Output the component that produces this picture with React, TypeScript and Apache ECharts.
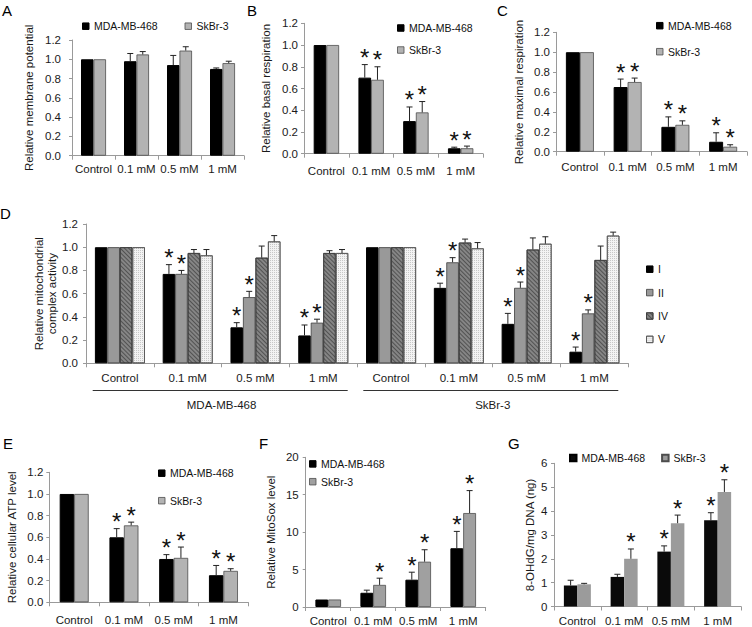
import React, { useEffect, useRef } from 'react';
import * as echarts from 'echarts';

const FONT = "'Liberation Sans', Arial, Helvetica, sans-serif";

const doses = ['Control', '0.1 mM', '0.5 mM', '1 mM'];
const cells = ['MDA-MB-468', 'SkBr-3'];
const complexes = ['I', 'II', 'IV', 'V'];

// A: membrane potential
const aMDA = [1.0, 0.98, 0.94, 0.9];
const aMDAErr = [1.0, 1.06, 1.04, 0.91];
const aSK = [1.0, 1.05, 1.09, 0.96];
const aSKErr = [1.0, 1.08, 1.13, 0.98];
const aStarMDA = [0, 0, 0, 0];
const aStarSK = [0, 0, 0, 0];

// B: basal respiration
const bMDA = [1.0, 0.7, 0.3, 0.05];
const bMDAErr = [1.0, 0.82, 0.43, 0.06];
const bSK = [1.0, 0.68, 0.38, 0.05];
const bSKErr = [1.0, 0.8, 0.48, 0.07];
const bStarMDA = [0, 1, 1, 1];
const bStarSK = [0, 1, 1, 1];

// C: maximal respiration
const cMDA = [1.0, 0.65, 0.25, 0.1];
const cMDAErr = [1.0, 0.73, 0.35, 0.19];
const cSK = [1.0, 0.7, 0.27, 0.05];
const cSKErr = [1.0, 0.74, 0.31, 0.07];
const cStarMDA = [0, 1, 1, 1];
const cStarSK = [0, 1, 1, 1];

// D: mitochondrial complex activity (MDA-MB-468 x4 doses, then SkBr-3 x4 doses)
const dI = [1, 0.77, 0.31, 0.24, 1, 0.65, 0.34, 0.1];
const dIErr = [1, 0.85, 0.35, 0.33, 1, 0.69, 0.43, 0.14];
const dII = [1, 0.77, 0.57, 0.35, 1, 0.87, 0.65, 0.43];
const dIIErr = [1, 0.8, 0.62, 0.38, 1, 0.91, 0.7, 0.46];
const dIV = [1, 0.95, 0.91, 0.95, 1, 1.04, 0.98, 0.89];
const dIVErr = [1, 0.98, 1.01, 0.97, 1, 1.07, 1.08, 1.01];
const dV = [1, 0.93, 1.05, 0.95, 1, 0.99, 1.03, 1.1];
const dVErr = [1, 0.98, 1.1, 0.98, 1, 1.04, 1.09, 1.13];
const dStarI = [0, 1, 1, 1, 0, 1, 1, 1];
const dStarII = [0, 1, 1, 1, 0, 1, 1, 1];
const dStarIV = [0, 0, 0, 0, 0, 0, 0, 0];
const dStarV = [0, 0, 0, 0, 0, 0, 0, 0];

// E: ATP level
const eMDA = [1.0, 0.6, 0.4, 0.25];
const eMDAErr = [1.0, 0.68, 0.44, 0.34];
const eSK = [1.0, 0.71, 0.41, 0.29];
const eSKErr = [1.0, 0.74, 0.51, 0.31];
const eStarMDA = [0, 1, 1, 1];
const eStarSK = [0, 1, 1, 1];

// F: MitoSox
const fMDA = [1.0, 1.9, 3.65, 7.85];
const fMDAErr = [1.0, 2.25, 4.65, 10.1];
const fSK = [1.0, 2.95, 6.05, 12.55];
const fSKErr = [1.0, 3.85, 7.65, 15.55];
const fStarMDA = [0, 0, 1, 1];
const fStarSK = [0, 1, 1, 1];

// G: 8-OHdG
const gMDA = [0.88, 1.24, 2.3, 3.61];
const gMDAErr = [1.1, 1.35, 2.54, 3.93];
const gSK = [0.93, 2.0, 3.49, 4.8];
const gSKErr = [0.97, 2.41, 3.83, 5.31];
const gStarMDA = [0, 0, 1, 1];
const gStarSK = [0, 1, 1, 1];

const BLACK = { color: '#000', borderColor: '#000', borderWidth: 1 };
const GRAY = { color: '#b3b3b3', borderColor: '#4d4d4d', borderWidth: 0.8 };
const GRAY_F = { color: '#a0a0a0', borderColor: '#4d4d4d', borderWidth: 0.8 };
const BLACK_G = { color: '#0a0a0a' };
const GRAY_G = { color: '#9b9b9b' };
const D_STYLES = [
  { color: '#000', borderColor: '#000', borderWidth: 1 },
  { color: '#999999', borderColor: '#3c3c3c', borderWidth: 0.8 },
  {
    color: '#858585', borderColor: '#3c3c3c', borderWidth: 0.8,
    decal: { symbol: 'rect', symbolSize: 1, color: 'rgba(40,40,40,0.55)', dashArrayX: [1, 0], dashArrayY: [1, 2], rotation: Math.PI / 4 },
  },
  {
    color: '#f3f3f3', borderColor: '#555', borderWidth: 0.8,
    decal: { symbol: 'rect', symbolSize: 1, color: 'rgba(0,0,0,0.18)', dashArrayX: [1, 1], dashArrayY: [1, 1], rotation: 0 },
  },
];

type SeriesDef = { name: string; vals: number[]; errs: number[]; stars: number[]; style: any };
type Panel = {
  letter: string; lx: number; ly: number;
  grid: { left: number; top: number; width: number; height: number };
  cats: string[]; ymax: number; interval: number; decimals: number;
  yName: string; nameGap: number; yMargin: number; xMargin: number; bw: number;
  series: SeriesDef[];
  legend: any;
  starSize: number;
};

const panels: Panel[] = [
  {
    letter: 'A', lx: 2, ly: 3,
    grid: { left: 72, top: 40, width: 172, height: 115.7 },
    cats: doses, ymax: 1.2, interval: 0.2, decimals: 1,
    yName: 'Relative membrane potential', nameGap: 36, yMargin: 11, xMargin: 7, bw: 12.5,
    series: [
      { name: cells[0], vals: aMDA, errs: aMDAErr, stars: aStarMDA, style: BLACK },
      { name: cells[1], vals: aSK, errs: aSKErr, stars: aStarSK, style: GRAY },
    ],
    legend: { left: 82, top: 20.7, orient: 'horizontal', itemGap: 27 },
    starSize: 24,
  },
  {
    letter: 'B', lx: 247, ly: 3,
    grid: { left: 304, top: 23.3, width: 179, height: 130.4 },
    cats: doses, ymax: 1.2, interval: 0.2, decimals: 1,
    yName: 'Relative basal respiration', nameGap: 31, yMargin: 6, xMargin: 11, bw: 12.7,
    series: [
      { name: cells[0], vals: bMDA, errs: bMDAErr, stars: bStarMDA, style: BLACK },
      { name: cells[1], vals: bSK, errs: bSKErr, stars: bStarSK, style: GRAY },
    ],
    legend: { left: 397, top: 22.5, orient: 'vertical', itemGap: 11 },
    starSize: 24,
  },
  {
    letter: 'C', lx: 497, ly: 3,
    grid: { left: 556, top: 32.3, width: 191, height: 119.4 },
    cats: doses, ymax: 1.2, interval: 0.2, decimals: 1,
    yName: 'Relative maximal respiration', nameGap: 30, yMargin: 6, xMargin: 9, bw: 14,
    series: [
      { name: cells[0], vals: cMDA, errs: cMDAErr, stars: cStarMDA, style: BLACK },
      { name: cells[1], vals: cSK, errs: cSKErr, stars: cStarSK, style: GRAY },
    ],
    legend: { left: 656, top: 20.2, orient: 'vertical', itemGap: 15 },
    starSize: 24,
  },
  {
    letter: 'E', lx: 3, ly: 436,
    grid: { left: 49.3, top: 472.3, width: 199, height: 130 },
    cats: doses, ymax: 1.2, interval: 0.2, decimals: 1,
    yName: 'Relative cellular ATP level', nameGap: 31, yMargin: 6, xMargin: 12, bw: 14.5,
    series: [
      { name: cells[0], vals: eMDA, errs: eMDAErr, stars: eStarMDA, style: BLACK },
      { name: cells[1], vals: eSK, errs: eSKErr, stars: eStarSK, style: GRAY },
    ],
    legend: { left: 158, top: 467.7, orient: 'vertical', itemGap: 16.5 },
    starSize: 24,
  },
  {
    letter: 'F', lx: 259, ly: 436,
    grid: { left: 305.7, top: 457.3, width: 180, height: 150.4 },
    cats: doses, ymax: 20, interval: 5, decimals: 0,
    yName: 'Relative MitoSox level', nameGap: 28, yMargin: 7, xMargin: 8, bw: 12.8,
    series: [
      { name: cells[0], vals: fMDA, errs: fMDAErr, stars: fStarMDA, style: BLACK },
      { name: cells[1], vals: fSK, errs: fSKErr, stars: fStarSK, style: GRAY_F },
    ],
    legend: { left: 309, top: 458.4, orient: 'vertical', itemGap: 6.8 },
    starSize: 24,
  },
  {
    letter: 'G', lx: 508, ly: 436,
    grid: { left: 554, top: 463.3, width: 187, height: 145 },
    cats: doses, ymax: 6, interval: 1, decimals: 0,
    yName: '8-OHdG/mg DNA (ng)', nameGap: 17, yMargin: 6.5, xMargin: 8.5, bw: 13.5,
    series: [
      { name: cells[0], vals: gMDA, errs: gMDAErr, stars: gStarMDA, style: BLACK_G },
      { name: cells[1], vals: gSK, errs: gSKErr, stars: gStarSK, style: GRAY_G },
    ],
    legend: { left: 569, top: 452.5, orient: 'horizontal', itemGap: 16 },
    starSize: 24,
  },
  {
    letter: 'D', lx: 0, ly: 206,
    grid: { left: 86, top: 224, width: 542.3, height: 139.3 },
    cats: [...doses.map((d) => cells[0] + '|' + d), ...doses.map((d) => cells[1] + '|' + d)],
    ymax: 1.2, interval: 0.2, decimals: 1,
    yName: 'Relative mitochondrial\ncomplex activity', nameGap: 27, yMargin: 8, xMargin: 9, bw: 12.5,
    series: [
      { name: complexes[0], vals: dI, errs: dIErr, stars: dStarI, style: D_STYLES[0] },
      { name: complexes[1], vals: dII, errs: dIIErr, stars: dStarII, style: D_STYLES[1] },
      { name: complexes[2], vals: dIV, errs: dIVErr, stars: dStarIV, style: D_STYLES[2] },
      { name: complexes[3], vals: dV, errs: dVErr, stars: dStarV, style: D_STYLES[3] },
    ],
    legend: { left: 646, top: 263.7, orient: 'vertical', itemGap: 12.4 },
    starSize: 24,
  },
];

function makeRender(n: number, bw: number, starSize: number) {
  return (params: any, api: any) => {
    const cat = api.value(0);
    const s = api.value(1);
    const v = api.value(2);
    const e = api.value(3);
    const star = api.value(4);
    const base = api.coord([cat, v]);
    const x = base[0] + (s - (n - 1) / 2) * bw;
    const yv = base[1];
    const ye = api.coord([cat, e])[1];
    const children: any[] = [];
    if (ye < yv - 0.5) {
      children.push({ type: 'line', shape: { x1: x, y1: yv, x2: x, y2: ye }, style: { stroke: '#222', lineWidth: 1 } });
      children.push({ type: 'line', shape: { x1: x - 3, y1: ye, x2: x + 3, y2: ye }, style: { stroke: '#222', lineWidth: 1 } });
    }
    if (star) {
      children.push({
        type: 'text', x, y: Math.min(ye, yv) - 7,
        style: { text: '*', fontSize: starSize, fontFamily: FONT, fill: '#111', align: 'center', verticalAlign: 'middle' },
      });
    }
    return { type: 'group', children };
  };
}

function buildOption() {
  const grid: any[] = [];
  const xAxis: any[] = [];
  const yAxis: any[] = [];
  const series: any[] = [];
  const legend: any[] = [];
  const graphic: any[] = [];

  panels.forEach((p, gi) => {
    grid.push({ ...p.grid, containLabel: false });
    const xi = xAxis.length;
    xAxis.push({
      type: 'category', gridIndex: gi, data: p.cats,
      axisLine: { lineStyle: { color: '#9a9a9a', width: 1 } },
      axisTick: { show: true, length: 4, lineStyle: { color: '#9a9a9a' } },
      axisLabel: {
        interval: 0, margin: p.xMargin, fontSize: 11.5, color: '#1a1a1a', fontFamily: FONT,
        formatter: (v: string) => (v.indexOf('|') >= 0 ? v.split('|')[1] : v),
      },
      splitLine: { show: false },
    });
    yAxis.push({
      type: 'value', gridIndex: gi, min: 0, max: p.ymax, interval: p.interval,
      name: p.yName, nameLocation: 'middle', nameGap: p.nameGap, nameMoveOverlap: false,
      nameTextStyle: { fontSize: 11.5, color: '#1a1a1a', fontFamily: FONT, lineHeight: 13.3 },
      axisLine: { show: true, lineStyle: { color: '#9a9a9a', width: 1 } },
      axisTick: { show: true, length: 3, lineStyle: { color: '#9a9a9a' } },
      axisLabel: {
        margin: p.yMargin, fontSize: 11.5, color: '#1a1a1a', fontFamily: FONT,
        formatter: (v: number) => v.toFixed(p.decimals),
      },
      splitLine: { show: false },
    });
    const errRows: any[] = [];
    p.series.forEach((s, si) => {
      series.push({
        type: 'bar', name: s.name, xAxisIndex: xi, yAxisIndex: gi,
        data: s.vals, barWidth: p.bw, barGap: '0%',
        itemStyle: s.style,
      });
      s.vals.forEach((v, i) => errRows.push([i, si, v, s.errs[i], s.stars[i]]));
    });
    series.push({
      type: 'custom', name: 'err' + p.letter, xAxisIndex: xi, yAxisIndex: gi,
      data: errRows, encode: { x: 0, y: 2 }, z: 10, clip: false,
      renderItem: makeRender(p.series.length, p.bw, p.starSize),
    });
    legend.push({
      ...p.legend, padding: 0, itemWidth: 6.5, itemHeight: 6.5, icon: 'rect', selectedMode: false,
      textStyle: { fontSize: 10.5, color: '#111', fontFamily: FONT },
      data: p.series.map((s) => ({ name: s.name, itemStyle: s.style })),
    });
    graphic.push({
      type: 'text', left: p.lx, top: p.ly,
      style: { text: p.letter, fontSize: 15, fontFamily: FONT, fill: '#000' },
    });
  });

  // D: group labels axis and brackets
  const dIdx = panels.findIndex((p) => p.letter === 'D');
  xAxis.push({
    type: 'category', gridIndex: dIdx, data: cells, position: 'bottom', offset: 30,
    axisLine: { show: false }, axisTick: { show: false },
    axisLabel: { interval: 0, margin: 6, fontSize: 11.5, color: '#1a1a1a', fontFamily: FONT },
  });
  graphic.push({ type: 'line', shape: { x1: 92.7, y1: 390.5, x2: 347.7, y2: 390.5 }, style: { stroke: '#333', lineWidth: 1 } });
  graphic.push({ type: 'line', shape: { x1: 363.3, y1: 390.5, x2: 618.3, y2: 390.5 }, style: { stroke: '#333', lineWidth: 1 } });

  return {
    animation: false,
    backgroundColor: '#fff',
    textStyle: { fontFamily: FONT },
    grid, xAxis, yAxis, series, legend, graphic,
  };
}

export default function App() {
  const ref = useRef<HTMLDivElement>(null);
  useEffect(() => {
    const chart = echarts.init(ref.current as HTMLDivElement, null, { renderer: 'svg' });
    chart.setOption(buildOption() as any);
    return () => chart.dispose();
  }, []);
  return (
    <div
      ref={ref}
      style={{ position: 'absolute', left: 0, top: 0, width: 752, height: 627, background: '#fff' }}
    />
  );
}
